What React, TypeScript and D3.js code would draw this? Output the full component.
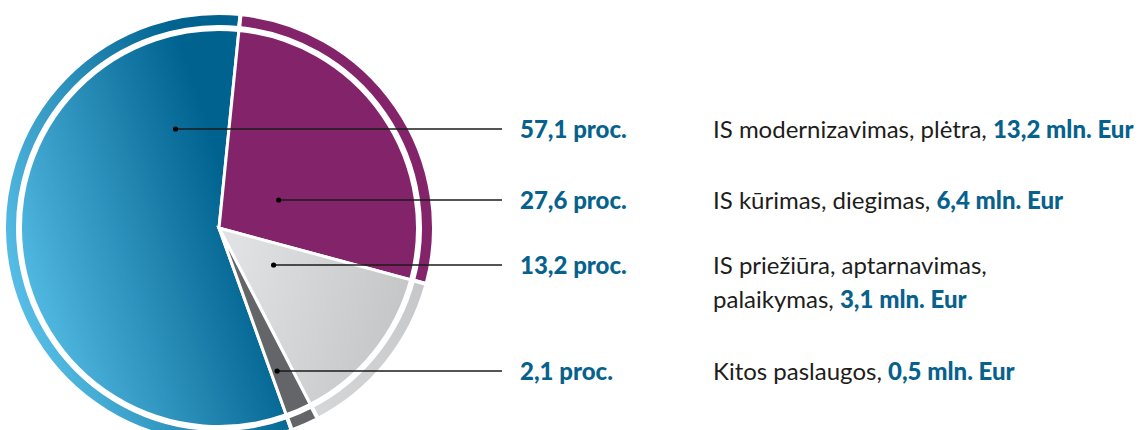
import React, { useRef, useEffect } from 'react'
import * as d3 from 'd3'

// Išlaidų pasiskirstymas: skritulinė diagrama su išoriniu žiedu ir dešinėje eilutėmis.
const shares = [57.1, 27.6, 13.2, 2.1]
const shareLabels = ['57,1 proc.', '27,6 proc.', '13,2 proc.', '2,1 proc.']
const descriptions = [
  ['IS modernizavimas, plėtra, '],
  ['IS kūrimas, diegimas, '],
  ['IS priežiūra, aptarnavimas,', 'palaikymas, '],
  ['Kitos paslaugos, '],
]
const amounts = ['13,2 mln. Eur', '6,4 mln. Eur', '3,1 mln. Eur', '0,5 mln. Eur']

const W = 1141
const H = 430
const cx = 219
const cy = 228
const rPie = 198.5
const rRingIn = 201
const rRingOut = 215
const startDeg = 160.2
const rowY = [129, 200, 265, 371]
const lineEndX = 502
const labelX = 520
const descX = 713
const blue = '#06628d'

export default function App() {
  const svgRef = useRef<SVGSVGElement>(null)

  useEffect(() => {
    const svg = d3.select(svgRef.current)
    svg.selectAll('*').remove()

    const defs = svg.append('defs')
    // dégradés en coordonnées absolues de la page, ramenées au centre du camembert
    const lg = (id: string, x1: number, y1: number, x2: number, y2: number, c1: string, c2: string) => {
      const g = defs.append('linearGradient').attr('id', id)
        .attr('gradientUnits', 'userSpaceOnUse')
        .attr('x1', x1 - cx).attr('y1', y1 - cy).attr('x2', x2 - cx).attr('y2', y2 - cy)
      g.append('stop').attr('offset', 0).attr('stop-color', c1)
      g.append('stop').attr('offset', 1).attr('stop-color', c2)
    }
    lg('gBlue', 0, 300, 240, 220, '#5cc4ec', '#00628f')
    lg('gGray', 230, 280, 410, 330, '#e0e1e3', '#c3c4c6')
    lg('gGrayRing', 280, 420, 420, 280, '#d8d9db', '#c6c7c9')

    const fills = ['url(#gBlue)', '#83246b', 'url(#gGray)', '#646568']
    const ringFills = ['url(#gBlue)', '#83246b', 'url(#gGrayRing)', '#646568']

    const a0 = (startDeg * Math.PI) / 180
    const pie = d3.pie<number>().sort(null).value((d) => d).startAngle(a0).endAngle(a0 + 2 * Math.PI)
    const arcs = pie(shares)

    const g = svg.append('g').attr('transform', `translate(${cx},${cy})`)

    const arcPie = d3.arc<d3.PieArcDatum<number>>().innerRadius(0).outerRadius(rPie)
    const arcRing = d3.arc<d3.PieArcDatum<number>>().innerRadius(rRingIn).outerRadius(rRingOut)

    g.selectAll('path.ring').data(arcs).join('path')
      .attr('class', 'ring')
      .attr('d', arcRing)
      .attr('fill', (d, i) => ringFills[i])
      .attr('stroke', '#fff').attr('stroke-width', 4)

    g.selectAll('path.slice').data(arcs).join('path')
      .attr('class', 'slice')
      .attr('d', arcPie)
      .attr('fill', (d, i) => fills[i])
      .attr('stroke', '#fff').attr('stroke-width', 3).attr('stroke-linejoin', 'miter')

    // point d'ancrage : sur la ligne horizontale de la rangée, à 30 % du segment de la part
    const inSlice = (x: number, y: number, d: d3.PieArcDatum<number>) => {
      if (Math.hypot(x, y) > rPie - 4) return false
      let ang = Math.atan2(x, -y)
      while (ang < d.startAngle) ang += 2 * Math.PI
      return ang <= d.endAngle
    }
    arcs.forEach((d, i) => {
      const dy = rowY[i] - cy
      const xs: number[] = []
      for (let x = -rPie; x <= rPie; x += 0.5) if (inSlice(x, dy, d)) xs.push(x)
      if (!xs.length) return
      const lo = d3.min(xs)!
      const hi = d3.max(xs)!
      const nearLeft = Math.abs(lo) < Math.abs(hi)
      const near = nearLeft ? lo : hi
      const far = nearLeft ? hi : lo
      const dotX = near + 0.3 * (far - near)
      g.append('line')
        .attr('x1', dotX).attr('x2', lineEndX - cx)
        .attr('y1', dy).attr('y2', dy)
        .attr('stroke', '#1b1b1b').attr('stroke-width', 1.3)
      g.append('circle').attr('cx', dotX).attr('cy', dy).attr('r', 2.6).attr('fill', '#000')
    })

    const font = 'Lato, "Noto Sans", sans-serif'
    shareLabels.forEach((t, i) => {
      svg.append('text')
        .attr('x', labelX).attr('y', rowY[i] + 9)
        .attr('fill', blue)
        .style('font-family', font).style('font-size', '24px').style('font-weight', 900)
        .text(t)
    })

    descriptions.forEach((lines, i) => {
      lines.forEach((ln, j) => {
        const txt = svg.append('text')
          .attr('x', descX).attr('y', rowY[i] + 9 + j * 34)
          .attr('fill', '#1d1d1b')
          .style('font-family', font).style('font-size', '24px')
        txt.append('tspan').text(ln)
        if (j === lines.length - 1) {
          txt.append('tspan').attr('fill', blue).style('font-weight', 900).text(amounts[i])
        }
      })
    })
  }, [])

  return (
    <svg
      ref={svgRef}
      width={W}
      height={H}
      viewBox={`0 0 ${W} ${H}`}
      style={{ position: 'absolute', left: 0, top: 0, background: '#fff' }}
    />
  )
}
